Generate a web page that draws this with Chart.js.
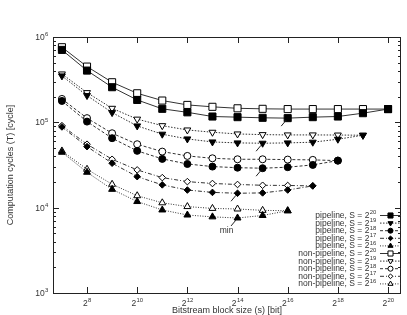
<!DOCTYPE html>
<html>
<head>
<meta charset="utf-8">
<script src="https://cdn.jsdelivr.net/npm/chart.js@4.4.1/dist/chart.umd.min.js"></script>
<style>
  body { margin: 0; background: #fff; }
  canvas { display: block; }
</style>
</head>
<body>
<canvas id="cycles" width="407" height="315"></canvas>
<script>
// block sizes s [bit] (2^7 .. 2^20)
const blockSizes = [128, 256, 512, 1024, 2048, 4096, 8192, 16384, 32768, 65536, 131072, 262144, 524288, 1048576];
const sExp = [20, 19, 18, 17, 16];

// computation cycles, pipeline
const pipeS20 = [706000, 404000, 258000, 183000, 144000, 131000, 117000, 115000, 113000, 112000, 115000, 117000, 128000, 143000];
const pipeS19 = [350000, 206000, 130000, 90800, 72600, 63900, 58900, 57400, 56900, 57400, 58500, 63400, 70600];
const pipeS18 = [178000, 102000, 65200, 46300, 37300, 32500, 30300, 29400, 29000, 29800, 31700, 35600];
const pipeS17 = [88300, 51900, 33200, 23100, 18500, 16100, 15100, 14750, 14900, 16100, 18000];
const pipeS16 = [44600, 26000, 16400, 11800, 9400, 8200, 7800, 7570, 8100, 9200];

// computation cycles, non-pipeline
const nonS20 = [759000, 450000, 295000, 219000, 180000, 160000, 152000, 146000, 144000, 143000, 143000, 143000, 143000, 143000];
const nonS19 = [369000, 223000, 146000, 109000, 91400, 81400, 76500, 73100, 71800, 71200, 71200, 71000, 70600];
const nonS18 = [188000, 112000, 74500, 55400, 45400, 40400, 37900, 36900, 36900, 36600, 36300, 35600];
const nonS17 = [91500, 55400, 36900, 27700, 22500, 20200, 19200, 18700, 18300, 18200, 18000];
const nonS16 = [46200, 28200, 18800, 13800, 11400, 10300, 9800, 9650, 9300, 9200];

const xTickExp = [8, 10, 12, 14, 16, 18, 20];
const yTickExp = [3, 4, 5, 6];

const FONT = '"Liberation Sans", Arial, sans-serif';
const INK = '#222';

// marker + dash per S
const styles = [
  { shape: 'rect', r: 5, rot: 0, dash: [] },
  { shape: 'triangle', r: 4, rot: 180, dash: [1.5, 1.5] },
  { shape: 'circle', r: 3.5, rot: 0, dash: [3, 2] },
  { shape: 'rectRot', r: 3.3, rot: 0, dash: [4, 2, 1, 2] },
  { shape: 'triangle', r: 4, rot: 0, dash: [1, 1.5] }
];

function toPoints(vals) {
  return vals.map((v, i) => ({ x: blockSizes[i], y: v }));
}

function makeSet(label, vals, st, filled) {
  return {
    label: label,
    data: toPoints(vals),
    borderColor: '#333',
    borderWidth: 1,
    borderDash: st.dash,
    fill: false,
    tension: 0,
    pointStyle: st.shape,
    pointRadius: st.r,
    pointRotation: st.rot,
    pointBackgroundColor: filled ? '#000' : '#fff',
    pointBorderColor: '#000',
    pointBorderWidth: 1
  };
}

const pipeAll = [pipeS20, pipeS19, pipeS18, pipeS17, pipeS16];
const nonAll = [nonS20, nonS19, nonS18, nonS17, nonS16];
const datasets = [];
pipeAll.forEach((v, i) => datasets.push(makeSet('pipeline, S = 2', v, styles[i], true)));
nonAll.forEach((v, i) => datasets.push(makeSet('non-pipeline, S = 2', v, styles[i], false)));

// text with a superscript part
function supText(ctx, base, sup, x, y, align, size) {
  ctx.font = size + 'px ' + FONT;
  const wb = ctx.measureText(base).width;
  ctx.font = (size * 0.7) + 'px ' + FONT;
  const ws = ctx.measureText(sup).width;
  const w = wb + ws;
  let x0 = x;
  if (align === 'center') x0 = x - w / 2;
  if (align === 'right') x0 = x - w;
  ctx.textAlign = 'left';
  ctx.font = size + 'px ' + FONT;
  ctx.fillText(base, x0, y);
  ctx.font = (size * 0.7) + 'px ' + FONT;
  ctx.fillText(sup, x0 + wb + 0.3, y - size * 0.42);
}

const gnuplotFrame = {
  id: 'gnuplotFrame',
  afterDraw(chart) {
    const { ctx, chartArea: a, scales } = chart;
    const xs = scales.x, ys = scales.y;
    ctx.save();
    ctx.strokeStyle = INK;
    ctx.lineWidth = 1;
    ctx.setLineDash([]);
    ctx.strokeRect(a.left + 0.5, a.top + 0.5, a.right - a.left - 1, a.bottom - a.top);

    // y ticks (major + minor), both sides
    ctx.beginPath();
    for (let e = 3; e < 6; e++) {
      for (let m = 1; m <= 9; m++) {
        const py = Math.round(ys.getPixelForValue(m * Math.pow(10, e))) + 0.5;
        const len = m === 1 ? 6 : 3;
        ctx.moveTo(a.left, py); ctx.lineTo(a.left + len, py);
        ctx.moveTo(a.right, py); ctx.lineTo(a.right - len, py);
      }
    }
    // x ticks, bottom and top
    xTickExp.forEach(e => {
      const px = Math.round(xs.getPixelForValue(Math.pow(2, e))) + 0.5;
      ctx.moveTo(px, a.bottom); ctx.lineTo(px, a.bottom - 6);
      ctx.moveTo(px, a.top); ctx.lineTo(px, a.top + 6);
    });
    ctx.stroke();

    // tick labels
    ctx.fillStyle = '#333';
    yTickExp.forEach(e => {
      const py = ys.getPixelForValue(Math.pow(10, e));
      supText(ctx, '10', String(e), 48, py + 3, 'right', 8.5);
    });
    xTickExp.forEach(e => {
      const px = xs.getPixelForValue(Math.pow(2, e));
      supText(ctx, '2', String(e), px, a.bottom + 13, 'center', 8.5);
    });

    // axis titles
    ctx.font = '9px ' + FONT;
    ctx.textAlign = 'center';
    ctx.fillText('Bitstream block size (s) [bit]', (a.left + a.right) / 2, 313);
    ctx.save();
    ctx.translate(11, (a.top + a.bottom) / 2);
    ctx.rotate(-Math.PI / 2);
    ctx.textBaseline = 'middle';
    ctx.fillText('Computation cycles (T) [cycle]', 0, 0);
    ctx.restore();

    // min arrows on pipeline series
    ctx.strokeStyle = INK;
    ctx.fillStyle = INK;
    pipeAll.forEach((vals, i) => {
      const k = vals.indexOf(Math.min(...vals));
      const pt = chart.getDatasetMeta(i).data[k];
      const x1 = pt.x - 6.5, y1 = pt.y + 8, x2 = pt.x - 1.5, y2 = pt.y + 2;
      ctx.beginPath();
      ctx.moveTo(x1, y1); ctx.lineTo(x2, y2);
      ctx.stroke();
      if (i === pipeAll.length - 1) {
        ctx.fillStyle = '#333';
        ctx.font = '8.5px ' + FONT;
        ctx.textAlign = 'center';
        ctx.fillText('min', pt.x - 11, pt.y + 15);
      }
    });

    // legend (gnuplot style: text right, sample on the right)
    const rowH = 7.6, top0 = 215;
    datasets.forEach((ds, i) => {
      const ly = top0 + i * rowH;
      ctx.fillStyle = '#333';
      supText(ctx, ds.label, String(sExp[i % 5]), 376, ly + 3, 'right', 8.5);
      ctx.strokeStyle = ds.borderColor;
      ctx.setLineDash(ds.borderDash);
      ctx.beginPath();
      ctx.moveTo(380, ly + 0.5); ctx.lineTo(401, ly + 0.5);
      ctx.stroke();
      ctx.setLineDash([]);
      ctx.fillStyle = ds.pointBackgroundColor;
      ctx.strokeStyle = ds.pointBorderColor;
      ctx.lineWidth = 1;
      Chart.helpers.drawPoint(ctx, {
        pointStyle: ds.pointStyle, radius: ds.pointRadius * 0.72,
        rotation: ds.pointRotation, borderWidth: 1
      }, 390.5, ly + 0.5);
    });
    ctx.restore();
  }
};

new Chart(document.getElementById('cycles'), {
  type: 'line',
  data: { datasets: datasets },
  options: {
    responsive: false,
    animation: false,
    layout: { padding: { left: 53, top: 37, right: 5, bottom: 22 } },
    scales: {
      x: { type: 'logarithmic', min: 100, max: 1500000, display: false },
      y: { type: 'logarithmic', min: 1000, max: 1000000, display: false }
    },
    plugins: { legend: { display: false }, tooltip: { enabled: false } }
  },
  plugins: [gnuplotFrame]
});
</script>
</body>
</html>
